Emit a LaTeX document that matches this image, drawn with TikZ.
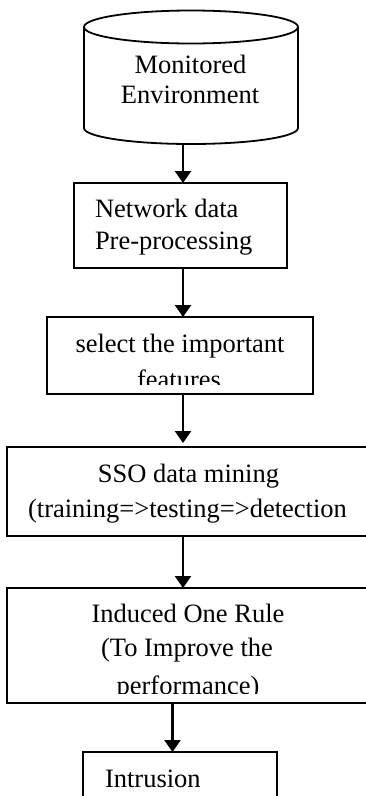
\documentclass[tikz,border=0pt]{standalone}
\usepackage{fontspec}
\setmainfont{Liberation Serif}
\usetikzlibrary{arrows.meta}
\begin{document}
\begin{tikzpicture}[x=1pt,y=-1pt,
  frame/.style={draw, line width=1.8pt, inner sep=0pt, outer sep=0pt},
  cyl/.style={line width=1.8pt},
  label/.style={inner sep=0pt, outer sep=0pt, font=\fontsize{26.5}{30}\selectfont},
  flow/.style={-{Triangle[width=16pt,length=12pt]}, line width=2.4pt}]
\useasboundingbox (0,0) rectangle (366,796);
\clip (0,0) rectangle (366,796);

% database cylinder
\node[inner sep=0pt, outer sep=0pt, minimum width=214pt, minimum height=134pt] (env) at (191,77) {};
\draw[cyl] (191,27) ellipse [x radius=107, y radius=16.5];
\draw[cyl] (84,27) -- (84,128) arc[start angle=180, end angle=0, x radius=107, y radius=16] -- (298,27);
\node[label, anchor=base] (envA) at (190.5,73) {Monitored};
\node[label, anchor=base] (envB) at (190,103) {Environment};

% process boxes
\node[frame, minimum width=213pt, minimum height=85pt] (b1) at (180.5,225.5) {};
\node[frame, minimum width=266pt, minimum height=77pt] (b2) at (180,355.5) {};
\node[frame, minimum width=365pt, minimum height=89pt] (b3) at (189.5,491.5) {};
\node[frame, minimum width=365pt, minimum height=115pt] (b4) at (189.5,645.5) {};
\node[frame, minimum width=194pt, minimum height=68pt] (b5) at (180,786) {};

\node[label, anchor=base west] (b1a) at (95,217) {Network data};
\node[label, anchor=base west] (b1b) at (95,249) {Pre-processing};

% text boxes whose last line overflows are cut off above the frame
\begin{scope}
  \clip (b2.north west) rectangle ([yshift=10pt]b2.south east);
  \node[label, anchor=base] (b2a) at (180,352) {select the important};
  \node[label, anchor=base] (b2b) at (179,388) {features};
\end{scope}

\node[label, anchor=base] (b3a) at (188.5,482) {SSO data mining};
\node[label, anchor=base] (b3b) at (187.5,517) {(training=>testing=>detection};

\begin{scope}
  \clip (b4.north west) rectangle ([yshift=10pt]b4.south east);
  \node[label, anchor=base] (b4a) at (188,622) {Induced One Rule};
  \node[label, anchor=base] (b4b) at (187,656) {(To Improve the};
  \node[label, anchor=base] (b4c) at (188,694) {performance)};
\end{scope}

\node[label, anchor=base west] (b5a) at (105,787) {Intrusion};

% connectors
\coordinate (ax) at (183,0);
\coordinate (bx) at (172.5,0);
\draw[flow] (env.south -| ax) -- (b1.north -| ax);
\draw[flow] (b1.south -| ax) -- (b2.north -| ax);
\draw[flow, shorten >=4pt] (b2.south -| ax) -- (b3.north -| ax);
\draw[flow] (b3.south -| ax) -- (b4.north -| ax);
\draw[flow] (b4.south -| bx) -- (b5.north -| bx);
\end{tikzpicture}
\end{document}
